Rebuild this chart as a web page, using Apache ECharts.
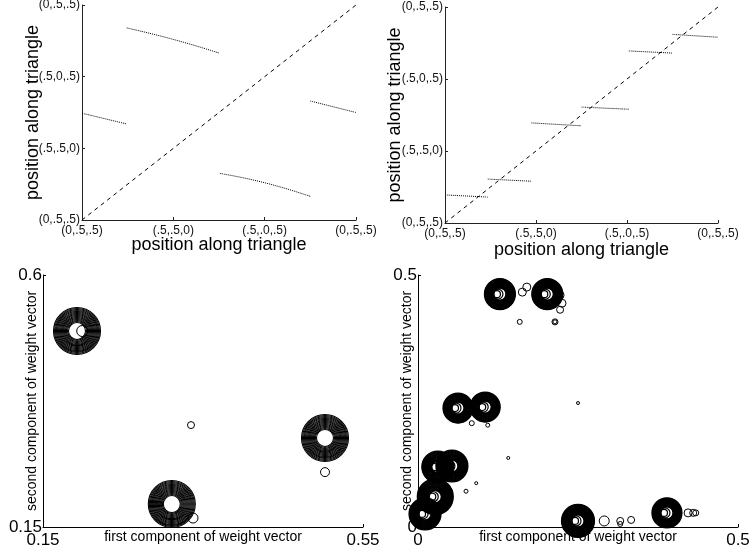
<!DOCTYPE html>
<html>
<head>
<meta charset="utf-8">
<script src="https://cdn.jsdelivr.net/npm/echarts@6/dist/echarts.min.js"></script>
<style>
  html, body { margin: 0; padding: 0; background: #fff; }
  #main { width: 751px; height: 556px; }
</style>
</head>
<body>
<div id="main"></div>
<script>
// tick labels of the two triangle panels (position 0..3 along the triangle)
var triXLabels = ['(0,.5,.5)', '(.5,.5,0)', '(.5,.0,.5)', '(0,.5,.5)'];
var triYLabels = ['(0,.5,.5)', '(.5,.5,0)', '(.5,0,.5)', '(0,.5,.5)'];

// top left: mapped position vs position
var tlSegA = [[0.49, 2.68], [1.0, 2.52], [1.5, 2.33]];
var tlSegB = [[0, 1.49], [0.49, 1.34]];
var tlSegC = [[1.51, 0.65], [2.0, 0.52], [2.5, 0.33]];
var tlSegD = [[2.5, 1.66], [3.0, 1.5]];

// top right
var trSeg1 = [[0, 0.39], [0.47, 0.36]];
var trSeg2 = [[0.47, 0.61], [0.95, 0.58]];
var trSeg3 = [[0.95, 1.39], [1.5, 1.35]];
var trSeg4 = [[1.5, 1.61], [2.02, 1.58]];
var trSeg5 = [[2.02, 2.39], [2.5, 2.36]];
var trSeg6 = [[2.5, 2.62], [3.0, 2.58]];

var diagonal = [[0, 0], [3, 3]];

// bottom left: weight vectors (big clusters drawn as stacked rings)
var blClusterX = [0.1925, 0.311, 0.5025];
var blClusterY = [0.50, 0.191, 0.309];
var blRings = [17, 19, 21, 23, 25, 27, 29, 31, 33, 35, 37, 39, 41, 43, 45, 47];
var blSmallX = [0.335, 0.5025, 0.3375, 0.199];
var blSmallY = [0.332, 0.248, 0.166, 0.50];
var blSmallSize = [7, 9, 10, 11];

// bottom right
var brClusterX = [0.128, 0.202, 0.0625, 0.105, 0.031, 0.053, 0.027, 0.011, 0.25, 0.389];
var brClusterY = [0.462, 0.462, 0.236, 0.238, 0.119, 0.121, 0.06, 0.026, 0.012, 0.028];
var brClusterSize = [31, 31, 30, 30, 32, 32, 36, 32, 33, 30];
var brSmallX = [0.163, 0.170, 0.222, 0.225, 0.222, 0.159, 0.214, 0.214, 0.084, 0.109,
                0.25, 0.141, 0.091, 0.075, 0.291, 0.316, 0.316, 0.333, 0.422, 0.43, 0.434];
var brSmallY = [0.466, 0.476, 0.460, 0.444, 0.431, 0.407, 0.407, 0.407, 0.206, 0.202,
                0.246, 0.137, 0.087, 0.071, 0.012, 0.012, 0.006, 0.014, 0.028, 0.028, 0.028];
var brSmallSize = [8, 8, 8, 8, 7, 5, 6, 4, 5, 4, 3, 3, 3, 4, 10, 7, 5, 7, 8, 7, 6];

var chart = echarts.init(document.getElementById('main'));
var FONT = 'Liberation Sans, Arial, sans-serif';

function triAxis(idx, labels, isX, nameGap) {
    return {
        type: 'value', gridIndex: idx, min: 0, max: 3, interval: 1,
        name: 'position along triangle', nameLocation: 'middle', nameGap: nameGap,
        nameMoveOverlap: false,
        nameTextStyle: { fontFamily: FONT, fontSize: 18, color: '#000' },
        axisLine: { show: true, lineStyle: { color: '#222', width: 1 } },
        axisTick: { show: true, inside: true, length: 3, lineStyle: { color: '#222' } },
        splitLine: { show: false },
        axisLabel: {
            fontFamily: FONT, fontSize: 12, color: '#111', margin: isX ? 5 : 2,
            formatter: function (v) { return labels[Math.round(v)]; }
        }
    };
}

function weightAxis(idx, name, min, max, isX, labelSize) {
    return {
        type: 'value', gridIndex: idx, min: min, max: max,
        name: name, nameLocation: 'middle', nameGap: isX ? 3 : 4,
        nameMoveOverlap: false,
        nameTextStyle: { fontFamily: FONT, fontSize: 14, color: '#000' },
        axisLine: { show: true, lineStyle: { color: '#000', width: 1 } },
        axisTick: { show: true, inside: true, length: 3, customValues: [max] },
        splitLine: { show: false },
        axisLabel: {
            fontFamily: FONT, fontSize: labelSize, color: '#000', margin: isX ? 5 : 1,
            customValues: [min, max]
        }
    };
}

function lineSeries(idx, data, dashed) {
    return {
        type: 'line', xAxisIndex: idx, yAxisIndex: idx, data: data,
        showSymbol: false, smooth: !dashed, silent: true,
        lineStyle: dashed ? { color: '#000', width: 1, type: [4, 4] }
                          : { color: '#000', width: 1, type: [1, 1] }
    };
}

// big clusters: either a fixed ring list (left) or rings from outer size down (right)
function ringData(xs, ys, sizes, rings) {
    var out = [];
    for (var c = 0; c < xs.length; c++) {
        var list = rings ? rings : [];
        if (!rings) {
            for (var s = sizes[c]; s >= 12; s -= 1) list.push(s);
        }
        for (var r = 0; r < list.length; r++) {
            out.push({ value: [xs[c], ys[c]], symbolSize: list[r] });
        }
        if (!rings) {
            out.push({ value: [xs[c], ys[c]], symbolSize: 10, symbolOffset: [-2, 0] });
            out.push({ value: [xs[c], ys[c]], symbolSize: 7, symbolOffset: [-3, 0] });
        }
    }
    return out;
}

function smallData(xs, ys, sizes) {
    return xs.map(function (x, i) { return { value: [x, ys[i]], symbolSize: sizes[i] }; });
}

function ringSeries(idx, data, width) {
    return {
        type: 'scatter', xAxisIndex: idx, yAxisIndex: idx, data: data, silent: true,
        symbol: 'circle',
        itemStyle: { color: 'rgba(0,0,0,0)', borderColor: '#000', borderWidth: width, opacity: 1 }
    };
}

var option = {
    backgroundColor: '#fff',
    animation: false,
    grid: [
        { left: 82, top: 5, width: 274, height: 215, outerBoundsMode: 'none' },
        { left: 445, top: 7, width: 273, height: 216, outerBoundsMode: 'none' },
        { left: 43, top: 275, width: 320, height: 252, outerBoundsMode: 'none' },
        { left: 418, top: 275, width: 320, height: 252, outerBoundsMode: 'none' }
    ],
    xAxis: [
        triAxis(0, triXLabels, true, 16),
        triAxis(1, triXLabels, true, 18),
        weightAxis(2, 'first component of weight vector', 0.15, 0.55, true, 17),
        weightAxis(3, 'first component of weight vector', 0, 0.5, true, 17)
    ],
    yAxis: [
        triAxis(0, triYLabels, false, 40),
        triAxis(1, triYLabels, false, 41),
        weightAxis(2, 'second component of weight vector', 0.15, 0.6, false, 17),
        weightAxis(3, 'second component of weight vector', 0, 0.5, false, 17)
    ],
    series: [
        lineSeries(0, diagonal, true),
        lineSeries(0, tlSegA), lineSeries(0, tlSegB), lineSeries(0, tlSegC), lineSeries(0, tlSegD),
        lineSeries(1, diagonal, true),
        lineSeries(1, trSeg1), lineSeries(1, trSeg2), lineSeries(1, trSeg3),
        lineSeries(1, trSeg4), lineSeries(1, trSeg5), lineSeries(1, trSeg6),
        ringSeries(2, ringData(blClusterX, blClusterY, null, blRings), 1.1),
        ringSeries(2, smallData(blSmallX, blSmallY, blSmallSize), 1),
        ringSeries(3, ringData(brClusterX, brClusterY, brClusterSize), 1.2),
        ringSeries(3, smallData(brSmallX, brSmallY, brSmallSize), 1)
    ]
};

chart.setOption(option);
</script>
</body>
</html>
